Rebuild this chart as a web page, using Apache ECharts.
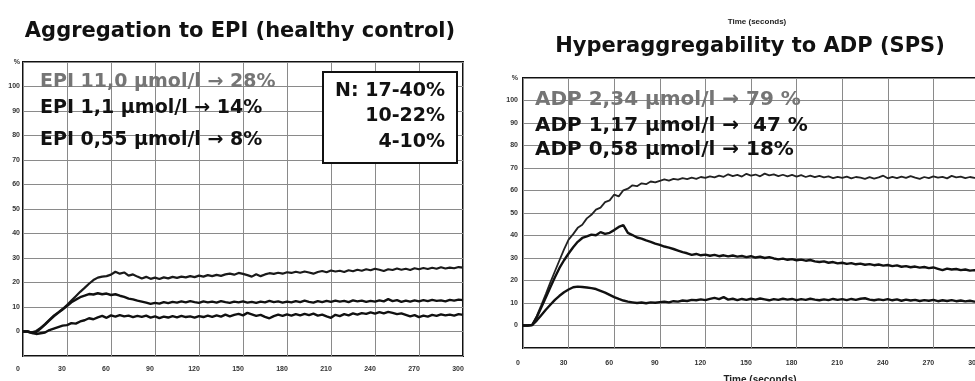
<!DOCTYPE html>
<html>
<head>
<meta charset="utf-8">
<script src="https://cdn.jsdelivr.net/npm/echarts@6/dist/echarts.min.js"></script>
<style>
  html, body { margin: 0; padding: 0; background: #fff; }
  #chart { width: 975px; height: 381px; }
</style>
</head>
<body>
<div id="chart"></div>
<script>
// sample times (s), one reading every 3 s from 0 to 300
const sampleTimes = [];
for (let t = 0; t <= 300; t += 3) sampleTimes.push(t);

const xTicks = [0, 30, 60, 90, 120, 150, 180, 210, 240, 270, 300];
const yTicks = [0, 10, 20, 30, 40, 50, 60, 70, 80, 90, 100];

// Aggregation to EPI (healthy control), % aggregation
const epi110 = [
  0, 0, -0.3, 0.2, 1.5, 3, 4.8, 6.5, 7.8, 9.2,
  10.8, 12.6, 14.4, 16.2, 17.8, 19.5, 21, 22, 22.4, 22.6,
  23.2, 24.4, 23.6, 24.1, 22.8, 23.3, 22.4, 21.6, 22.3, 21.5,
  22, 21.4, 22.1, 21.7, 22.3, 21.9, 22.4, 22.1, 22.6, 22.2,
  22.8, 22.4, 23, 22.6, 23.1, 22.7, 23.3, 23.6, 23.2, 23.9,
  23.5, 23, 22.4, 23.4, 22.6, 23.3, 23.8, 23.5, 24, 23.6,
  24.2, 23.9, 24.4, 24, 24.5, 24.1, 23.6, 24.3, 24.7, 24.2,
  24.9, 24.5, 24.8, 24.3, 25, 24.6, 25.2, 24.8, 25.4, 25,
  25.6, 25.2, 24.7, 25.4, 25.1, 25.7, 25.2, 25.6, 25.1, 25.8,
  25.4, 25.9, 25.5, 26, 25.6, 26.2, 25.7, 26.1, 25.8, 26.3,
  26.1
];
const epi11 = [
  0, 0, -0.5, -0.2, 1.2, 2.8, 4.5, 6.2, 7.6, 9,
  10.4, 11.9, 13, 14, 14.6, 15.3, 15.1, 15.6, 15.2, 15.5,
  14.9, 15.2, 14.6, 14.1, 13.4, 13.1, 12.6, 12.2, 11.8, 11.3,
  11.7, 11.4, 12, 11.6, 12.1, 11.8, 12.3, 11.9, 12.4, 12,
  11.7, 12.3, 11.9, 12.2, 11.8, 12.4, 12, 11.7, 12.2, 11.9,
  12.3, 11.8, 12.1, 11.7, 12.2, 11.9, 12.5, 12, 12.3, 11.8,
  12.2, 11.9, 12.4, 12, 12.6, 12.1, 11.8, 12.4, 12, 12.5,
  12.1, 12.6, 12.2, 12.5, 12, 12.7, 12.3, 12.6, 12.1, 12.5,
  12.2, 12.7, 12.3, 13.2, 12.4, 12.8, 12.1, 12.6, 12.2, 12.7,
  12.3, 12.8, 12.4, 12.9, 12.5, 12.7, 12.3, 12.9, 12.6, 13,
  12.8
];
const epi055 = [
  0, 0, -0.6, -1, -0.7, -0.4, 0.6, 1.2, 1.8, 2.4,
  2.6, 3.4, 3.2, 4.1, 4.6, 5.4, 5, 5.8, 6.4, 5.6,
  6.6, 6.1, 6.7, 6.2, 6.5, 5.9, 6.4, 6, 6.5, 5.7,
  6.2, 5.5, 6.1, 5.7, 6.3, 5.8, 6.4, 5.9, 6.2, 5.7,
  6.3, 5.9, 6.5, 6, 6.6, 6.1, 6.9, 6.2, 6.8, 7.2,
  6.6, 7.6, 7, 6.4, 6.8, 6, 5.4, 6.3, 6.9, 6.4,
  7, 6.5, 7.1, 6.6, 7.2, 6.7, 7.3, 6.5, 6.9, 6.2,
  5.6, 6.8, 6.3, 7.1, 6.6, 7.4, 6.9, 7.5, 7.2, 7.8,
  7.3, 7.9, 7.4, 8, 7.6, 7.1, 7.4, 6.8, 6.2, 6.7,
  5.9, 6.5, 6.1, 6.8, 6.4, 7, 6.6, 6.9, 6.5, 7.1,
  6.8
];

// Hyperaggregability to ADP (SPS), % aggregation
const adp234 = [
  0, 0, 0.3, 4.2, 9, 14, 19.2, 24.1, 29, 33.8,
  38.2, 40.6, 43.4, 44.8, 47.6, 49.2, 51.5, 52.4, 54.8, 55.6,
  58.2, 57.4, 60.1, 60.8, 62.3, 61.9, 63.2, 62.8, 64, 63.6,
  64.3, 64.9, 64.4, 65.2, 64.8, 65.5, 65.1, 65.7, 65.2, 66,
  65.6, 66.3, 65.8, 66.6, 66.1, 67.2, 66.4, 66.9, 66.2, 67.4,
  66.6, 67.1, 66.3, 67.5, 66.7, 67.2, 66.4, 67, 66.3, 66.9,
  66.2, 66.8, 66, 66.6, 65.9, 66.5, 65.8, 66.3, 65.5, 66.1,
  65.6, 66.2, 65.4, 66, 65.7, 65.2, 65.9, 65.3, 65.8, 66.6,
  65.4, 66.1, 65.5, 66.2, 65.6, 66.4, 65.7, 65.2, 66, 65.5,
  66.3, 65.7, 66.1, 65.4, 66.5, 65.8, 66.2, 65.5, 66, 65.6,
  65.8
];
const adp117 = [
  0, 0, 0.2, 3.6, 8, 12.4, 17, 21.4, 25.6, 29,
  32, 34.8, 37.2, 38.9, 39.6, 40.4, 40.1, 41.5, 40.7, 41.2,
  42.4, 43.8, 44.6, 41.2, 40.2, 39.1, 38.6, 37.8, 37.2, 36.4,
  35.8, 35.1, 34.6, 34, 33.3, 32.6, 32.1, 31.4, 31.8, 31.2,
  31.5, 31, 31.4, 30.8, 31.2, 30.7, 31.1, 30.6, 30.9, 30.4,
  30.8, 30.2, 30.6, 30, 30.4, 29.8, 29.4, 29.7, 29.2, 29.5,
  29, 29.3, 28.8, 29.1, 28.5, 28.2, 28.5, 27.9, 28.2, 27.6,
  27.9, 27.4, 27.7, 27.2, 27.5, 27, 27.3, 26.8, 27.1, 26.6,
  26.9, 26.4, 26.7, 26.1, 26.4, 25.9, 26.2, 25.7, 26, 25.5,
  25.8, 25.2, 24.6, 25.3, 24.9, 25.1, 24.6, 24.9, 24.4, 24.6,
  24.3
];
const adp058 = [
  0, 0, 0.2, 2.2, 4.6, 7, 9.2, 11.4, 13.2, 14.8,
  16, 17, 17.3, 17.1, 16.9, 16.6, 16.2, 15.4, 14.6, 13.6,
  12.6, 11.8, 11.1, 10.6, 10.3, 10, 10.2, 9.9, 10.3, 10.1,
  10.4, 10.6, 10.3, 10.8, 10.6, 11.1, 10.9, 11.4, 11.2, 11.6,
  11.3, 11.8, 12.3, 11.7, 12.6, 11.5, 11.9, 11.3, 11.8, 11.4,
  11.9, 11.5, 12, 11.6, 11.2, 11.7, 11.4, 11.9, 11.5, 11.8,
  11.3, 11.7, 11.4, 11.9, 11.5, 11.2, 11.6, 11.3, 11.8, 11.4,
  11.7, 11.3, 11.8, 11.4, 11.9, 12.1, 11.5, 11.2, 11.6, 11.3,
  11.7, 11.2, 11.6, 11, 11.5, 11.1, 11.4, 10.9, 11.3, 11,
  11.4, 10.8, 11.2, 10.9, 11.3, 10.8, 11.1, 10.7, 11, 10.6,
  10.7
];

const FONT = '"Liberation Sans", Arial, sans-serif';
const WIDE = '"DejaVu Sans", Verdana, sans-serif';
const pairs = (vals) => sampleTimes.map((t, i) => [t, vals[i]]);

const myChart = echarts.init(document.getElementById('chart'));

const makeX = (gridIndex) => ({
  type: 'value',
  gridIndex: gridIndex,
  min: 0,
  max: 300,
  interval: 30,
  axisLine: { show: false },
  axisTick: { show: false },
  axisLabel: {
    margin: gridIndex === 0 ? 10 : 12,
    fontSize: 7,
    fontWeight: 'bold',
    color: '#333',
    fontFamily: FONT,
    padding: [0, 10, 0, 0],
    formatter: (v) => (xTicks.indexOf(v) >= 0 ? String(v) : '')
  },
  splitLine: { show: true, lineStyle: { color: '#8a8a8a', width: 1 } }
});

const makeY = (gridIndex) => ({
  type: 'value',
  gridIndex: gridIndex,
  min: -10,
  max: 110,
  interval: 10,
  axisLine: { show: false },
  axisTick: { show: false },
  axisLabel: {
    margin: gridIndex === 0 ? 3 : 5,
    fontSize: 7,
    fontWeight: 'bold',
    color: '#333',
    fontFamily: FONT,
    formatter: (v) => (v === 110 ? '%' : (yTicks.indexOf(v) >= 0 ? String(v) : ''))
  },
  splitLine: { show: true, lineStyle: { color: '#8a8a8a', width: 1 } }
});

const makeLine = (name, vals, gi, color, width) => ({
  name: name,
  type: 'line',
  xAxisIndex: gi,
  yAxisIndex: gi,
  showSymbol: false,
  symbol: 'none',
  lineStyle: { color: color, width: width },
  data: pairs(vals),
  z: 5
});

const txt = (text, x, y, size, weight, fill, align, family) => ({
  type: 'text',
  x: x,
  y: y,
  z: 100,
  style: {
    text: text,
    fill: fill,
    font: weight + ' ' + size + 'px ' + (family || WIDE),
    align: align || 'left',
    verticalAlign: 'middle'
  }
});

const option = {
  backgroundColor: '#fff',
  animation: false,
  grid: [
    { left: 23, top: 62, width: 440, height: 294, show: true, borderColor: '#111', borderWidth: 2, backgroundColor: 'transparent', outerBoundsMode: 'none' },
    { left: 523, top: 78, width: 456, height: 270, show: true, borderColor: '#111', borderWidth: 2, backgroundColor: 'transparent', outerBoundsMode: 'none' }
  ],
  xAxis: [makeX(0), makeX(1)],
  yAxis: [makeY(0), makeY(1)],
  series: [
    makeLine('EPI 11,0', epi110, 0, '#1a1a1a', 2.2),
    makeLine('EPI 1,1', epi11, 0, '#111', 2.4),
    makeLine('EPI 0,55', epi055, 0, '#111', 2.4),
    makeLine('ADP 2,34', adp234, 1, '#222', 1.8),
    makeLine('ADP 1,17', adp117, 1, '#111', 2.4),
    makeLine('ADP 0,58', adp058, 1, '#111', 2.4)
  ],
  graphic: [
    txt('Aggregation to EPI (healthy control)', 240, 32, 21, 'bold', '#111', 'center'),
    txt('EPI 11,0 µmol/l → 28%', 40, 82, 19, 'bold', '#757575'),
    txt('EPI 1,1 µmol/l → 14%', 40, 108, 19, 'bold', '#111'),
    txt('EPI 0,55 µmol/l → 8%', 40, 140, 19, 'bold', '#111'),
    {
      type: 'rect',
      z: 99,
      shape: { x: 323, y: 72, width: 134, height: 91 },
      style: { fill: '#fff', stroke: '#111', lineWidth: 2 }
    },
    txt('N: 17-40%', 445, 91, 19, 'bold', '#111', 'right'),
    txt('10-22%', 445, 116, 19, 'bold', '#111', 'right'),
    txt('4-10%', 445, 142, 19, 'bold', '#111', 'right'),

    txt('Time (seconds)', 757, 22, 8, 'bold', '#222', 'center', FONT),
    txt('Hyperaggregability to ADP (SPS)', 750, 47, 21, 'bold', '#111', 'center'),
    txt('ADP 2,34 µmol/l → 79 %', 535, 100, 20, 'bold', '#757575'),
    txt('ADP 1,17 µmol/l →  47 %', 535, 126, 20, 'bold', '#111'),
    txt('ADP 0,58 µmol/l → 18%', 535, 150, 20, 'bold', '#111'),
    txt('Time (seconds)', 760, 380, 10, 'bold', '#222', 'center', FONT)
  ]
};

myChart.setOption(option);
</script>
</body>
</html>
